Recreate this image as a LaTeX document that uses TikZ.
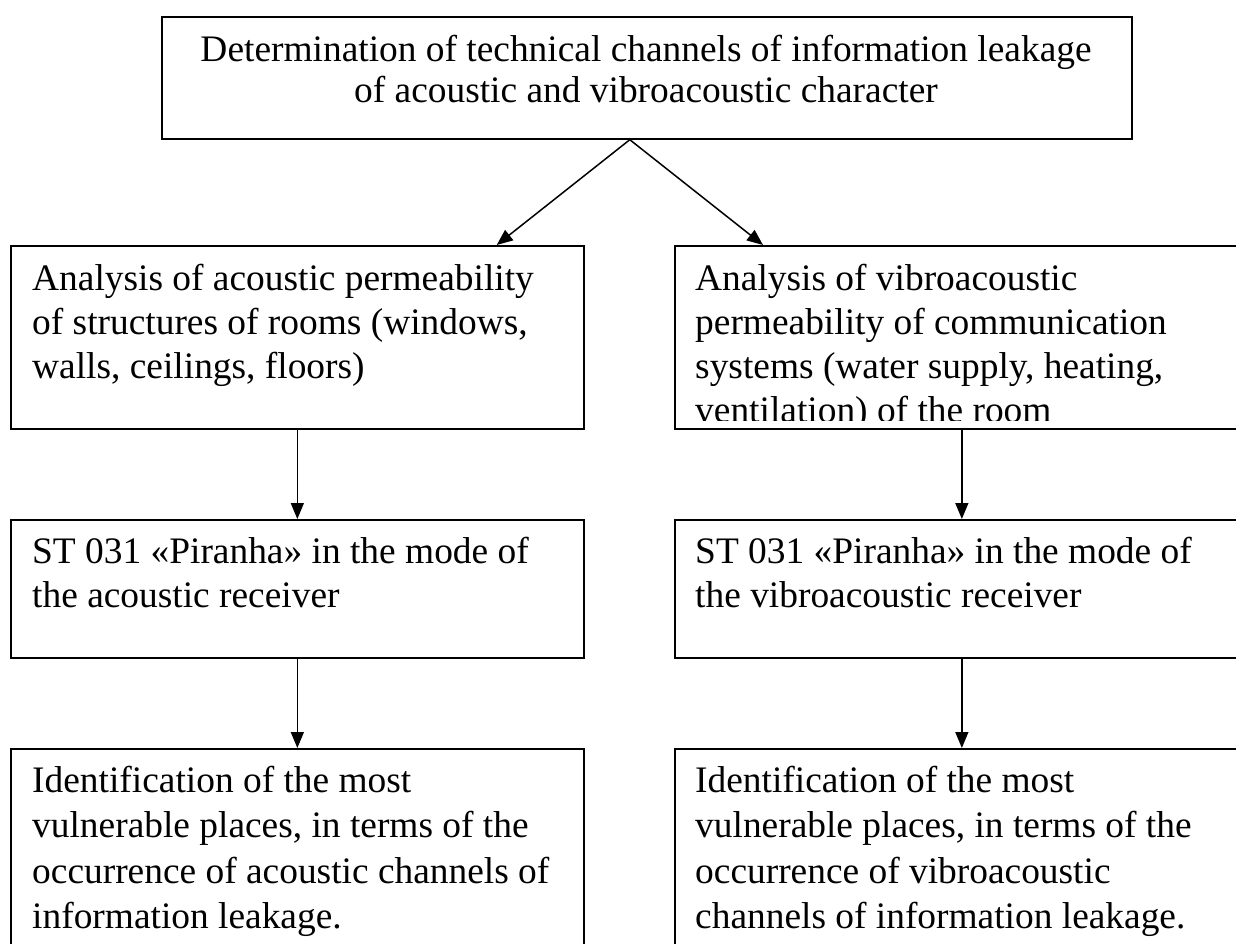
\documentclass[tikz,border=0pt]{standalone}
\usepackage{fontspec}
\setmainfont{Liberation Serif}
\usetikzlibrary{arrows.meta,calc}
\begin{document}
\begin{tikzpicture}[x=1pt,y=-1pt,
  box/.style={draw=black, line width=1.7pt, rectangle, inner sep=0pt, anchor=north west},
  topbox/.style={box, line width=2.2pt},
  body/.style={font=\fontsize{37.4}{44}\selectfont, inner sep=0pt, anchor=north west, align=left},
  lowbody/.style={font=\fontsize{37.4}{45.5}\selectfont, inner sep=0pt, anchor=north west, align=left},
  head/.style={font=\fontsize{37.4}{40.5}\selectfont, inner sep=0pt, anchor=north, align=center},
  link/.style={line width=1.5pt, -{Triangle[length=16pt,width=13pt]}}]

\useasboundingbox (0,0) rectangle (1236,943);
\clip (0,0) rectangle (1236,943);

% top box
\node[topbox, minimum width=970pt, minimum height=121.5pt] (top) at (161,16) {};
\node[head] (topt) at (646,33.4)
  {\strut Determination of technical channels of information leakage\\
   of acoustic and vibroacoustic character};

% second row
\node[box, minimum width=573pt, minimum height=183pt] (al) at (10,245) {};
\node[box, minimum width=574pt, minimum height=183pt] (ar) at (674,245) {};
\node[body] (alt) at (32,259.2)
  {\strut Analysis of acoustic permeability\\
   of structures of rooms (windows,\\
   walls, ceilings, floors)};
\begin{scope}
  \clip (674,245) rectangle (1236,420);
  \node[body] (art) at (695,259.2)
    {\strut Analysis of vibroacoustic\\
     permeability of communication\\
     systems (water supply, heating,\\
     ventilation) of the room};
\end{scope}

% third row
\node[box, minimum width=573pt, minimum height=138pt] (bl) at (10,519) {};
\node[box, minimum width=574pt, minimum height=138pt] (br) at (674,519) {};
\node[body] (blt) at (32,532.2)
  {\strut ST 031 «Piranha» in the mode of\\
   the acoustic receiver};
\node[body] (brt) at (695,532.2)
  {\strut ST 031 «Piranha» in the mode of\\
   the vibroacoustic receiver};

% fourth row
\node[box, minimum width=573pt, minimum height=300pt] (cl) at (10,748) {};
\node[box, minimum width=574pt, minimum height=300pt] (cr) at (674,748) {};
\node[lowbody] (clt) at (32,760.2)
  {\strut Identification of the most\\
   vulnerable places, in terms of the\\
   occurrence of acoustic channels of\\
   information leakage.};
\node[lowbody] (crt) at (695,760.2)
  {\strut Identification of the most\\
   vulnerable places, in terms of the\\
   occurrence of vibroacoustic\\
   channels of information leakage.};

% connectors
\coordinate (apex) at ([xshift=-17.3pt]top.south);
\draw[link] (apex) -- ([xshift=-88pt]al.north east);
\draw[link] (apex) -- ([xshift=89pt]ar.north west);
\draw[link] (al.south) -- (bl.north);
\draw[link] (ar.south) -- (br.north);
\draw[link] (bl.south) -- (cl.north);
\draw[link] (br.south) -- (cr.north);
\end{tikzpicture}
\end{document}
